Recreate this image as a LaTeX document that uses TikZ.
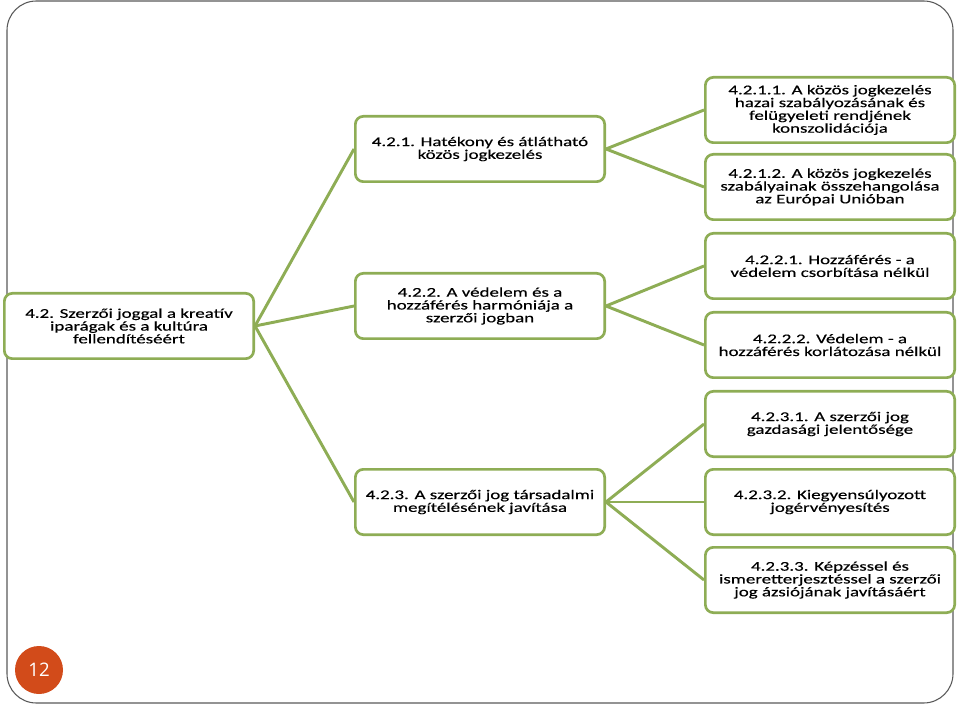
\documentclass[tikz,border=0pt]{standalone}
\usepackage{fontspec}
\usepackage{xcolor}
\newfontfamily\boxfont[FakeStretch=1.42,FakeBold=0.35]{Carlito}
\newfontfamily\numfont{Open Sans}

\begin{document}
\begin{tikzpicture}[x=0.75pt,y=-0.75pt,
  mybox/.style={draw=leafgreen,line width=2pt,rounded corners=6pt,fill=white,
    minimum width=187pt,minimum height=49pt,align=center,inner sep=2pt,
    font=\boxfont\fontsize{10}{9.6}\selectfont},
  myline/.style={draw=leafgreen,line width=2.2pt}]
\definecolor{leafgreen}{HTML}{8EAD55}
\definecolor{pagered}{HTML}{D24B1A}
\useasboundingbox (0,0) rectangle (959,705);
\draw[gray!70!black,line width=0.8pt,rounded corners=22pt] (7,1) rectangle (953,703);
% main topic
\node[mybox] (root) at (129,326) {4.2. Szerzői joggal a kreatív\\iparágak és a kultúra\\fellendítéséért};
% second level
\node[mybox] (m1) at (480,149) {4.2.1. Hatékony és átlátható\\közös jogkezelés};
\node[mybox] (m2) at (480,306) {4.2.2. A védelem és a\\hozzáférés harmóniája a\\szerzői jogban};
\node[mybox] (m3) at (480,502) {4.2.3. A szerzői jog társadalmi\\megítélésének javítása};
% third level
\node[mybox] (l11) at (830,110) {4.2.1.1. A közös jogkezelés\\hazai szabályozásának és\\felügyeleti rendjének\\konszolidációja};
\node[mybox] (l12) at (830,187) {4.2.1.2. A közös jogkezelés\\szabályainak összehangolása\\az Európai Unióban};
\node[mybox] (l21) at (830,266) {4.2.2.1. Hozzáférés - a\\védelem csorbítása nélkül};
\node[mybox] (l22) at (830,345) {4.2.2.2. Védelem - a\\hozzáférés korlátozása nélkül};
\node[mybox] (l31) at (830,424) {4.2.3.1. A szerzői jog\\gazdasági jelentősége};
\node[mybox] (l32) at (830,502) {4.2.3.2. Kiegyensúlyozott\\jogérvényesítés};
\node[mybox] (l33) at (830,580) {4.2.3.3. Képzéssel és\\ismeretterjesztéssel a szerzői\\jog ázsiójának javításáért};
  \foreach \src/\dst in {root/m1,root/m2,root/m3,m1/l11,m1/l12,m2/l21,m2/l22,m3/l31,m3/l32,m3/l33}
  {  \draw[myline] (\src.east) -- (\dst.west);}
% page number
\node[circle,fill=pagered,minimum size=36pt,text=white,font=\numfont\fontsize{14}{14}\selectfont] (pnum) at (39,670) {12};
\end{tikzpicture}
\end{document}
